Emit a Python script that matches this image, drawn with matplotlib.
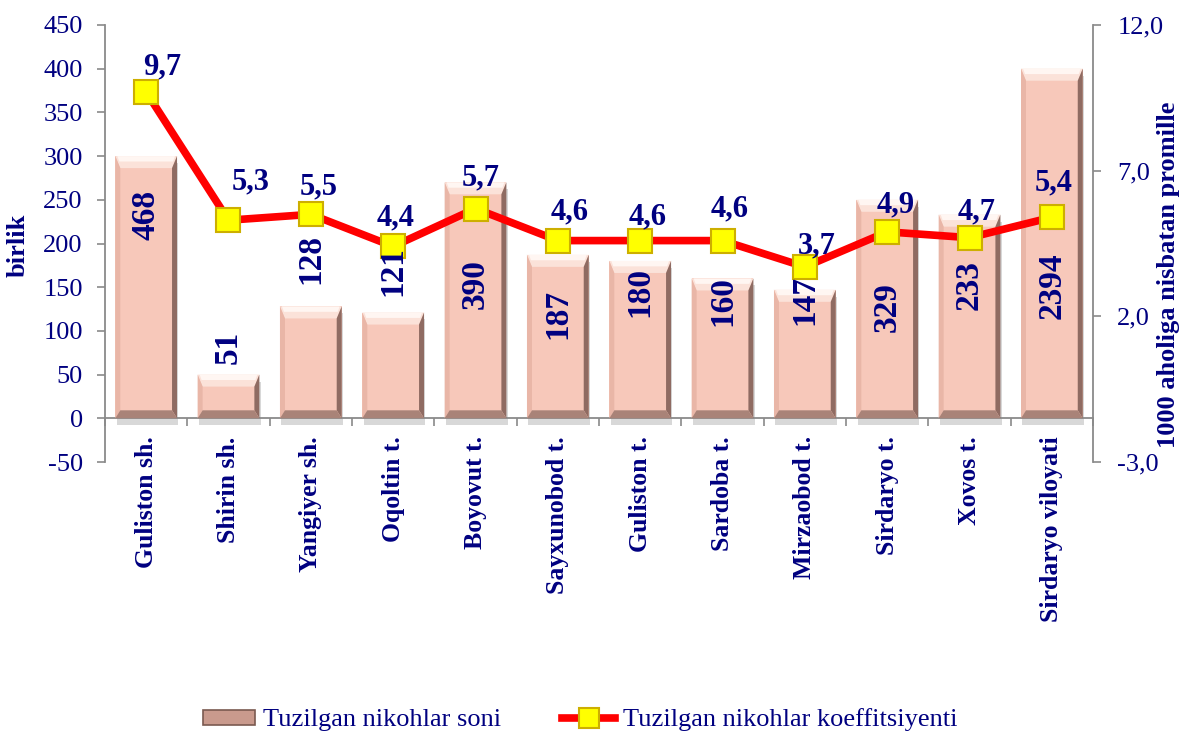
import matplotlib
matplotlib.use('Agg')
import matplotlib.pyplot as plt
import matplotlib.patheffects as pe
from matplotlib.patches import Polygon, Patch
from matplotlib.lines import Line2D
from matplotlib.ticker import FuncFormatter
import numpy as np

# ---------------- data ----------------
categories = ["Guliston sh.", "Shirin sh.", "Yangiyer sh.", "Oqoltin t.", "Boyovut t.",
              "Sayxunobod t.", "Guliston t.", "Sardoba t.", "Mirzaobod t.", "Sirdaryo t.",
              "Xovos t.", "Sirdaryo viloyati"]
bar_heights = [300, 50, 128, 121, 270, 187, 180, 160, 147, 250, 233, 400]
bar_labels = ["468", "51", "128", "121", "390", "187", "180", "160", "147", "329", "233", "2394"]
coef = [9.7, 5.3, 5.5, 4.4, 5.7, 4.6, 4.6, 4.6, 3.7, 4.9, 4.7, 5.4]
left_ticks = list(range(-50, 451, 50))
right_ticks = [-3.0, 2.0, 7.0, 12.0]
series_names = ["Tuzilgan nikohlar soni", "Tuzilgan nikohlar koeffitsiyenti"]
left_title = "birlik"
right_title = "1000 aholiga nisbatan promille"

# label placement (layout only)
bar_label_y = [233, 81, 182, 168, 154, 119, 145, 134, 136, 127, 153, 152]
line_label_dx = [16, 22, 8, 2, 5, 12, 7, 7, 12, 8, 7, 2]
line_label_dy = [25, 38, 27, 29, 31, 29, 24, 32, 21, 27, 26, 34]

# ---------------- style ----------------
plt.rcParams['font.family'] = ['Liberation Serif', 'DejaVu Serif']
plt.rcParams['axes.unicode_minus'] = False
NAVY = '#000080'
GRAY = '#8a8a8a'
FACE = '#F7C8BA'

fig = plt.figure(figsize=(11.85, 7.33), dpi=100)
ax = fig.add_axes([0.0886, 0.3697, 0.8338, 0.5962])
ax2 = ax.twinx()

x = np.arange(len(categories))
bars = ax.bar(x, bar_heights, width=0.75, color=FACE, edgecolor='none', zorder=2)
for b in bars:
    b.set_path_effects([pe.SimplePatchShadow(offset=(1, -5), shadow_rgbFace='#666666', alpha=0.25),
                        pe.Normal()])

ax.set_xlim(-0.5, len(categories) - 0.5)
ax.set_ylim(-50, 450)
ax2.set_ylim(-3, 12)

# bevel decorations derived from bar geometry
p0 = ax.transData.transform((0, 0))
p1 = ax.transData.transform((1, 1))
ppx = p1[0] - p0[0]
ppy = p1[1] - p0[1]
sx = 5 / ppx
ty = 12 / ppy
by = 8 / ppy
for b in bars:
    x0 = b.get_x(); x1 = x0 + b.get_width()
    y0 = b.get_y(); y1 = y0 + b.get_height()
    polys = [
        ([(x0, y1), (x1, y1), (x1 - sx, y1 - ty), (x0 + sx, y1 - ty)], '#FBE2D9'),
        ([(x0, y1), (x0 + sx, y1 - ty), (x0 + sx, y0 + by), (x0, y0)], '#E9B6A7'),
        ([(x1, y1), (x1, y0), (x1 - sx, y0 + by), (x1 - sx, y1 - ty)], '#8F6B62'),
        ([(x0, y0), (x1, y0), (x1 - sx, y0 + by), (x0 + sx, y0 + by)], '#A98378'),
    ]
    for pts, c in polys:
        ax.add_patch(Polygon(pts, closed=True, facecolor=c, edgecolor='none', zorder=3))
    # highlight strip at the very top of the upper bevel
    ax.add_patch(Polygon([(x0 + sx * 0.4, y1), (x1 - sx * 0.4, y1),
                          (x1 - sx * 0.8, y1 - ty * 0.45), (x0 + sx * 0.8, y1 - ty * 0.45)],
                         closed=True, facecolor='#FFF6F2', edgecolor='none', zorder=3))

# line
ax2.plot(x, coef, color='#FF0000', lw=5.5, marker='s', ms=17, mfc='#FFFF00',
         mec='#CDAF00', mew=1.5, zorder=5)

# labels
for xi, lab, ly in zip(x, bar_labels, bar_label_y):
    ax2.text(xi, ly, lab, transform=ax.transData, rotation=90, ha='center', va='center',
             fontsize=24, fontweight='bold', color=NAVY, zorder=6)
for xi, v, dx, dy in zip(x, coef, line_label_dx, line_label_dy):
    ax2.annotate(f"{v:.1f}".replace('.', ','), (xi, v), xytext=(dx, dy),
                 textcoords='offset pixels', ha='center', va='center',
                 fontsize=22, fontweight='bold', color=NAVY, zorder=7)

# spines
for s in ['top', 'right']:
    ax.spines[s].set_visible(False)
for s in ['top', 'left', 'bottom']:
    ax2.spines[s].set_visible(False)
ax.spines['bottom'].set_position(('data', 0))
for sp in [ax.spines['left'], ax.spines['bottom'], ax2.spines['right']]:
    sp.set_color(GRAY)
    sp.set_linewidth(1.3)

# ticks
ax.set_yticks(left_ticks)
ax.tick_params(axis='y', direction='out', length=6, width=1.2, color=GRAY,
               labelsize=19, labelcolor=NAVY, pad=10)
ax.set_xticks(x)
ax.set_xticklabels(categories, rotation=90, fontsize=18.5, fontweight='bold', color=NAVY)
ax.tick_params(axis='x', which='major', length=0, pad=13)
ax.set_xticks(np.arange(-0.5, len(categories), 1), minor=True)
ax.tick_params(axis='x', which='minor', direction='out', length=5.5, width=1.2, color=GRAY)

ax2.set_yticks(right_ticks)
ax2.yaxis.set_major_formatter(FuncFormatter(lambda v, p: f"{v:.1f}".replace('.', ',')))
ax2.tick_params(axis='y', direction='out', length=5.5, width=1.2, color=GRAY,
                labelsize=19, labelcolor=NAVY, pad=12)

# axis titles
fig.text(18 / 1185, 1 - 245 / 733, left_title, rotation=90, ha='center', va='center',
         fontsize=19, fontweight='bold', color=NAVY)
fig.text(1168 / 1185, 1 - 275 / 733, right_title, rotation=90, ha='center', va='center',
         fontsize=19, fontweight='bold', color=NAVY)

# legend
h1 = Patch(facecolor='#C99A8D', edgecolor='#7A5A50', linewidth=1.2)
h2 = Line2D([], [], color='#FF0000', lw=5.5, marker='s', ms=15, mfc='#FFFF00',
            mec='#CDAF00', mew=1.5)
fig.legend([h1, h2], series_names, loc='center', bbox_to_anchor=(580 / 1185, 1 - 720 / 733),
           ncol=2, frameon=False, fontsize=19, labelcolor=NAVY, columnspacing=2.3,
           handlelength=2.0, handletextpad=0.3, handleheight=0.5)

fig.savefig('out.png', dpi=100)
